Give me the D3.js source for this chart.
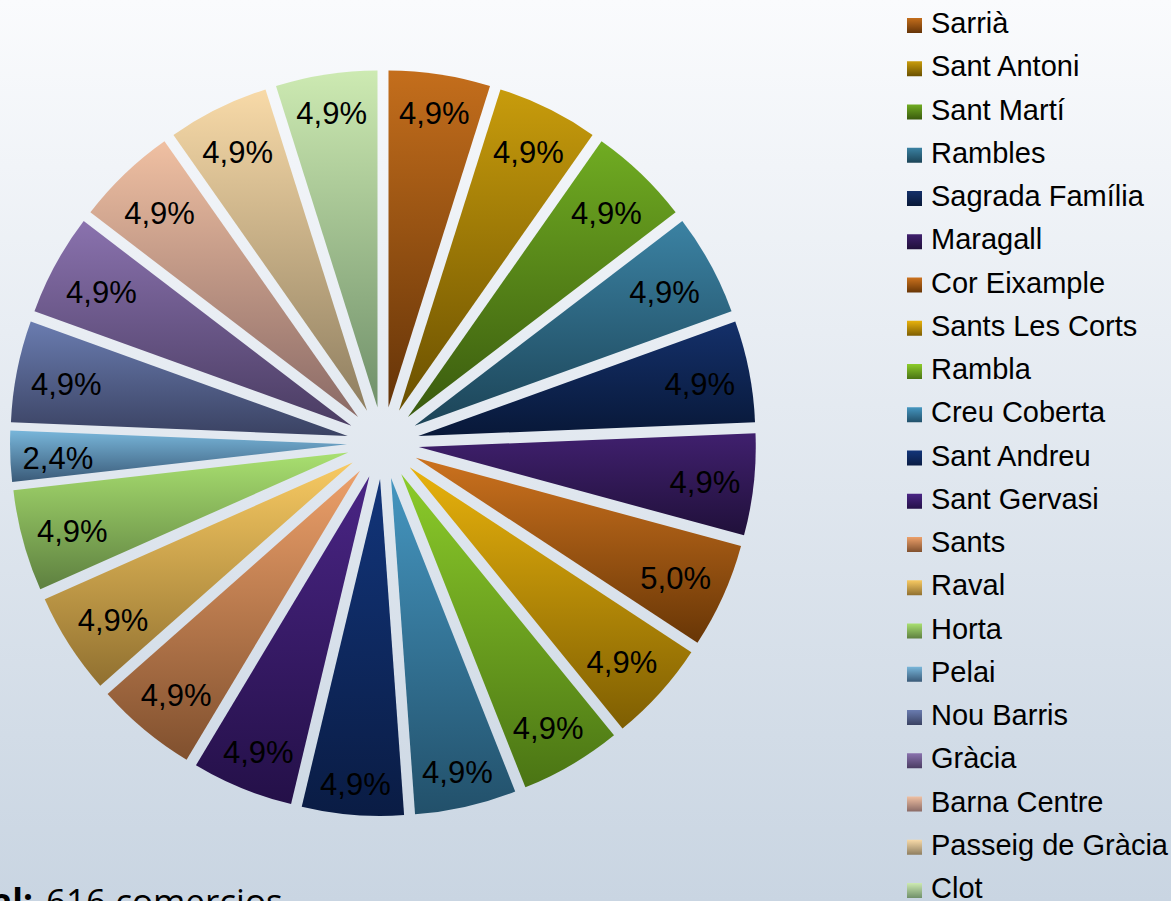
<!DOCTYPE html>
<html>
<head>
<meta charset="utf-8">
<script src="https://cdn.jsdelivr.net/npm/d3@7"></script>
<style>
html,body{margin:0;padding:0;overflow:hidden;background:#fff;}
svg{display:block;}
</style>
</head>
<body>
<svg id="chart" width="1171" height="901"></svg>
<script>
// ---- data ----
const categories = ["Sarrià","Sant Antoni","Sant Martí","Rambles","Sagrada Família","Maragall",
  "Cor Eixample","Sants Les Corts","Rambla","Creu Coberta","Sant Andreu","Sant Gervasi",
  "Sants","Raval","Horta","Pelai","Nou Barris","Gràcia","Barna Centre","Passeig de Gràcia","Clot"];
const comercios = [30,30,30,30,30,30, 31,30,30,30,30,30, 30,30,30,15,30,30,30,30,30];
const totalLabel = "Total:";
const totalValue = "616 comercios";

// palette (top / bottom of vertical gradient)
const topColors = ["#c46e1c","#c89c0c","#70ac22","#3b82a3","#14306a","#40206e",
  "#cc721e","#e8b20c","#8ccc2a","#4596c0","#12357a","#4a2585",
  "#eda06a","#f8ca62","#a9e070","#78b6da","#6a7cb0","#8a72ae","#f0c0a2","#f8daa8","#cdeab2"];
const botColors = ["#653408","#6a5000","#3a5a0e","#1c4457","#081838","#20103a",
  "#683606","#7e5e02","#4a7414","#22506a","#0a1c44","#241048",
  "#80502e","#907030","#5e8040","#3a5a78","#3a4262","#4a3c62","#8a6a66","#8e7e60","#70906a"];

const W = 1171, H = 901;
const svg = d3.select("#chart");
const defs = svg.append("defs");

// background
const bg = defs.append("linearGradient").attr("id","bg").attr("x1",0).attr("y1",0).attr("x2",0).attr("y2",1);
bg.append("stop").attr("offset","0%").attr("stop-color","#fafbfd");
bg.append("stop").attr("offset","100%").attr("stop-color","#c9d5e2");
svg.append("rect").attr("width",W).attr("height",H).attr("fill","url(#bg)");

categories.forEach((c,i)=>{
  const g = defs.append("linearGradient").attr("id","g"+i).attr("x1",0).attr("y1",0).attr("x2",0).attr("y2",1);
  g.append("stop").attr("offset","0%").attr("stop-color",topColors[i]);
  g.append("stop").attr("offset","100%").attr("stop-color",botColors[i]);
});

const cx = 383, cy = 443, r = 337, explode = 36;
const total = d3.sum(comercios);
const pie = d3.pie().sort(null).value(d=>d);
const arcs = pie(comercios);
const arc = d3.arc().innerRadius(0).outerRadius(r);

const gPie = svg.append("g").attr("transform",`translate(${cx},${cy})`);
gPie.selectAll("path").data(arcs).enter().append("path")
  .attr("transform",d=>{
    const a=(d.startAngle+d.endAngle)/2;
    return `translate(${explode*Math.sin(a)},${-explode*Math.cos(a)})`;
  })
  .attr("d",arc)
  .attr("fill",(d,i)=>`url(#g${i})`);

const fmt = v => (Math.round(v/total*1000)/10).toFixed(1).replace(".",",")+"%";
const hw = 36, hh = 20, margin = 11;
const labelDist = a => explode + r - margin - (hw*Math.abs(Math.sin(a)) + hh*Math.abs(Math.cos(a)));
gPie.selectAll("text.lbl").data(arcs).enter().append("text")
  .attr("class","lbl")
  .attr("x",d=>{
    const a=(d.startAngle+d.endAngle)/2;
    return labelDist(a)*Math.sin(a);
  })
  .attr("y",d=>{
    const a=(d.startAngle+d.endAngle)/2;
    return -labelDist(a)*Math.cos(a) + 3;
  })
  .attr("dy","0.36em")
  .attr("text-anchor","middle")
  .attr("font-family","'Liberation Sans', Arial, sans-serif")
  .attr("font-size",31)
  .attr("fill","#000")
  .text(d=>fmt(d.data));

// legend
const lg = svg.append("g");
const rows = lg.selectAll("g").data(categories).enter().append("g")
  .attr("transform",(d,i)=>`translate(0,${33 + 43.25*i})`);
rows.append("rect").attr("x",907).attr("y",-15).attr("width",15).attr("height",15)
  .attr("fill",(d,i)=>`url(#g${i})`);
rows.append("text").attr("x",931).attr("y",0)
  .attr("font-family","'Liberation Sans', Arial, sans-serif")
  .attr("font-size",29).attr("fill","#000").text(d=>d);

// total
svg.append("text").attr("x",33).attr("y",914).attr("text-anchor","end")
  .attr("font-family","'Open Sans', sans-serif").attr("font-weight","bold")
  .attr("font-size",35).attr("fill","#000").text(totalLabel);
svg.append("text").attr("x",46).attr("y",914)
  .attr("font-family","'Open Sans', sans-serif")
  .attr("font-size",35).attr("fill","#000").text(totalValue);
</script>
</body>
</html>
